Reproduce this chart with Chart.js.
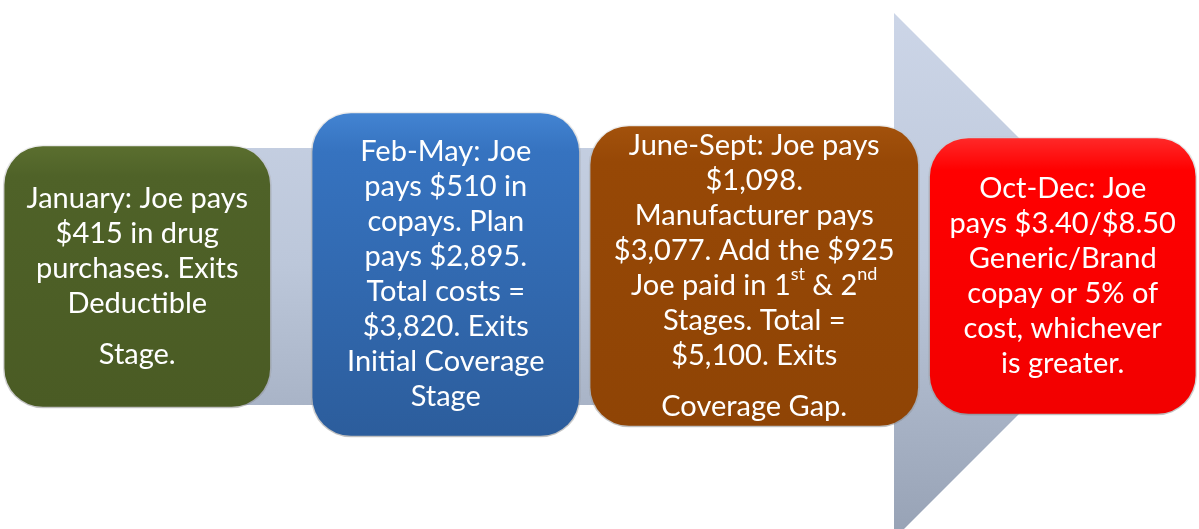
<!DOCTYPE html>
<html>
<head>
<meta charset="utf-8">
<script src="https://cdn.jsdelivr.net/npm/chart.js@4/dist/chart.umd.min.js"></script>
<style>
    html, body { margin: 0; padding: 0; background: #fff; overflow: hidden; }
    #wrap { position: absolute; left: -17px; top: 0; width: 1234px; height: 529px; }
</style>
</head>
<body>
<div id="wrap"><canvas id="chart"></canvas></div>
<script>
// stages and the vertical extent of each box (page px, top -> bottom)
const stages = ['January', 'Feb-May', 'June-Sept', 'Oct-Dec'];
const boxTop = [145, 112, 125, 137];
const boxBottom = [408, 437, 427, 415];

// text of each box, '' = extra gap, ^xx = superscript
const stageText = [
    ['January: Joe pays', '$415 in drug', 'purchases. Exits', 'Deductible', '', 'Stage.'],
    ['Feb-May: Joe', 'pays $510 in', 'copays. Plan', 'pays $2,895.', 'Total costs =', '$3,820. Exits', 'Initial Coverage', 'Stage'],
    ['June-Sept: Joe pays', '$1,098.', 'Manufacturer pays', '$3,077. Add the $925', 'Joe paid in 1^st & 2^nd', 'Stages. Total =', '$5,100. Exits', '', 'Coverage Gap.'],
    ['Oct-Dec: Joe', 'pays $3.40/$8.50', 'Generic/Brand', 'copay or 5% of', 'cost, whichever', 'is greater.']
];

// background arrow outline
const arrowX = [80, 894, 894, 1157, 894, 894, 80, 80];
const arrowY = [148, 148, 13, 276, 539, 405, 405, 148];

// styles
const boxWidths = [268, 269, 330, 268];
const boxColors = [
    ['#5b6f2f', '#4f6228', '#4a5b24'],
    ['#4384d2', '#3673c0', '#2c5d9c'],
    ['#a3520c', '#974806', '#8f4405'],
    ['#ff2a2a', '#ff0000', '#f20000']
];
const FONT = 'Lato, "Open Sans", sans-serif';
const fontSize = 29;
const lineH = 35;

function boxGradient(c) {
    const chart = c.chart;
    const i = c.datasetIndex;
    if (!chart.chartArea) return boxColors[i][1];
    const y = chart.scales.y;
    const t = y.getPixelForValue(boxTop[i]);
    const b = y.getPixelForValue(boxBottom[i]);
    const g = chart.ctx.createLinearGradient(0, t, 0, b);
    g.addColorStop(0, boxColors[i][0]);
    g.addColorStop(0.12, boxColors[i][1]);
    g.addColorStop(1, boxColors[i][2]);
    return g;
}

function arrowGradient(c) {
    const chart = c.chart;
    if (!chart.chartArea) return '#b8c3d6';
    const y = chart.scales.y;
    const g = chart.ctx.createLinearGradient(0, y.getPixelForValue(0), 0, y.getPixelForValue(529));
    g.addColorStop(0, '#cdd6e8');
    g.addColorStop(0.5, '#bcc7da');
    g.addColorStop(1, '#98a3b6');
    return g;
}

const datasets = stages.map((s, i) => ({
    label: s,
    data: stages.map((_, j) => j === i ? [boxTop[i], boxBottom[i]] : null),
    backgroundColor: boxGradient,
    borderColor: 'rgba(255,255,255,0.35)',
    borderWidth: 1.5,
    borderSkipped: false,
    borderRadius: 40,
    barThickness: boxWidths[i],
    grouped: false,
    order: 1
}));

datasets.push({
    type: 'line',
    label: 'arrow',
    xAxisID: 'xa',
    data: arrowX.map((x, i) => ({ x: x, y: arrowY[i] })),
    backgroundColor: arrowGradient,
    borderWidth: 0,
    pointRadius: 0,
    tension: 0,
    fill: 'shape',
    order: 10
});

// soft shadow under the boxes
const shadowPlugin = {
    id: 'shadow',
    beforeDatasetDraw(chart, args) {
        if (args.index < stages.length) {
            const ctx = chart.ctx;
            ctx.save();
            ctx.shadowColor = 'rgba(0,0,0,0.35)';
            ctx.shadowBlur = 8;
            ctx.shadowOffsetY = 3;
        }
    },
    afterDatasetDraw(chart, args) {
        if (args.index < stages.length) chart.ctx.restore();
    }
};

function drawLine(ctx, line, cx, y) {
    const parts = line.split(/(\^\w+)/).filter(p => p);
    const big = fontSize + 'px ' + FONT;
    const small = Math.round(fontSize * 0.62) + 'px ' + FONT;
    let total = 0;
    parts.forEach(p => {
        ctx.font = p[0] === '^' ? small : big;
        total += ctx.measureText(p[0] === '^' ? p.slice(1) : p).width;
    });
    let x = cx - total / 2;
    parts.forEach(p => {
        const sup = p[0] === '^';
        const txt = sup ? p.slice(1) : p;
        ctx.font = sup ? small : big;
        ctx.fillText(txt, x, sup ? y - 11 : y);
        x += ctx.measureText(txt).width;
    });
}

const textPlugin = {
    id: 'boxText',
    afterDatasetsDraw(chart) {
        const ctx = chart.ctx;
        ctx.save();
        ctx.fillStyle = '#ffffff';
        ctx.textAlign = 'left';
        ctx.textBaseline = 'middle';
        stages.forEach((s, i) => {
            const el = chart.getDatasetMeta(i).data[i];
            const cx = el.x;
            const cy = (el.y + el.base) / 2;
            const lines = stageText[i];
            let h = 0;
            lines.forEach((l, k) => { if (k > 0) h += l === '' ? 16 : lineH; });
            let y = cy - h / 2;
            lines.forEach((l, k) => {
                if (k > 0) y += l === '' ? 16 : lineH;
                if (l !== '') drawLine(ctx, l, cx, y);
            });
        });
        ctx.restore();
    }
};

new Chart(document.getElementById('chart'), {
    type: 'bar',
    data: { labels: stages, datasets: datasets },
    options: {
        responsive: true,
        maintainAspectRatio: false,
        animation: false,
        layout: { padding: 0 },
        plugins: { legend: { display: false }, tooltip: { enabled: false } },
        scales: {
            x: { display: false },
            xa: { type: 'linear', display: false, offset: false, min: -17, max: 1217 },
            y: { display: false, min: 0, max: 529, reverse: true }
        }
    },
    plugins: [shadowPlugin, textPlugin]
});
</script>
</body>
</html>
